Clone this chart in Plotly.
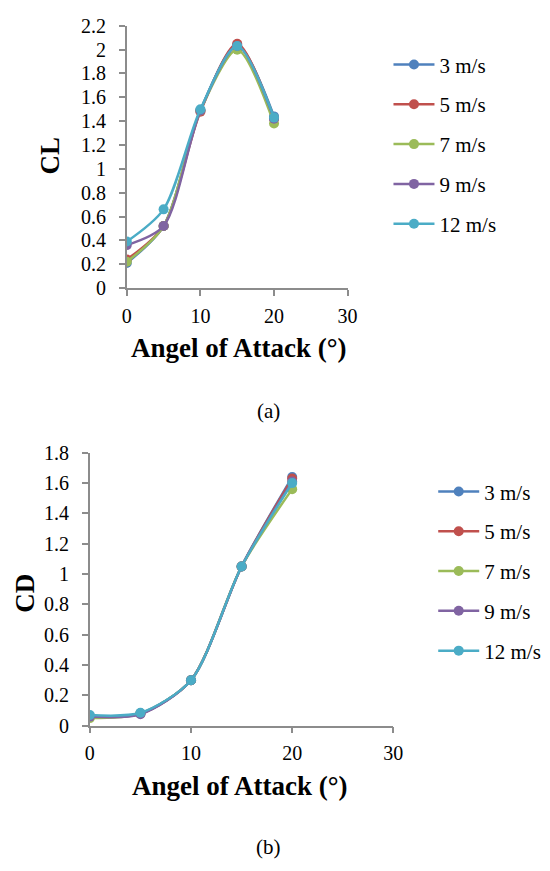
import plotly.graph_objects as go

# angle of attack (deg)
aoa = [0, 5, 10, 15, 20]
speeds = ["3 m/s", "5 m/s", "7 m/s", "9 m/s", "12 m/s"]
colors = ["#4F81BD", "#C0504D", "#9BBB59", "#8064A2", "#4BACC6"]

# lift coefficient per wind speed
cl_3 = [0.21, 0.52, 1.49, 2.04, 1.44]
cl_5 = [0.24, 0.52, 1.48, 2.05, 1.42]
cl_7 = [0.22, 0.52, 1.49, 2.00, 1.38]
cl_9 = [0.36, 0.52, 1.49, 2.03, 1.42]
cl_12 = [0.39, 0.66, 1.50, 2.03, 1.43]

# drag coefficient per wind speed
cd_3 = [0.06, 0.08, 0.30, 1.05, 1.64]
cd_5 = [0.06, 0.08, 0.30, 1.05, 1.63]
cd_7 = [0.05, 0.08, 0.30, 1.05, 1.56]
cd_9 = [0.06, 0.075, 0.30, 1.05, 1.61]
cd_12 = [0.07, 0.085, 0.30, 1.05, 1.60]

cl_all = [cl_3, cl_5, cl_7, cl_9, cl_12]
cd_all = [cd_3, cd_5, cd_7, cd_9, cd_12]

W, H = 550, 871
OFF = 8  # default body margin of the html page
FONT = "Liberation Serif"

fig = go.Figure()

for name, col, ys in zip(speeds, colors, cl_all):
    fig.add_trace(go.Scatter(x=aoa, y=ys, name=name, mode="lines+markers",
                             line=dict(color=col, width=2.5, shape="spline", smoothing=0.8),
                             marker=dict(color=col, size=10),
                             xaxis="x", yaxis="y", legend="legend", legendgroup="a" + name))

for name, col, ys in zip(speeds, colors, cd_all):
    fig.add_trace(go.Scatter(x=aoa, y=ys, name=name, mode="lines+markers",
                             line=dict(color=col, width=2.5, shape="spline", smoothing=0.8),
                             marker=dict(color=col, size=10),
                             xaxis="x2", yaxis="y2", legend="legend2", legendgroup="b" + name))

# screen pixel -> paper coords
def px_x(p):
    return (p - OFF) / W

def px_y(p):
    return (H - (p - OFF)) / H

axis_common = dict(showline=True, linecolor="#8c8c8c", linewidth=1.5, ticks="outside",
                   tickcolor="#8c8c8c", ticklen=6, tickwidth=1.5, showgrid=False, zeroline=False,
                   tickfont=dict(family=FONT, size=20, color="black"))

title_font = dict(family=FONT, size=27, color="black")
leg_font = dict(family=FONT, size=21, color="black")

fig.update_layout(
    width=W, height=H,
    margin=dict(l=0, r=0, t=0, b=0),
    plot_bgcolor="white", paper_bgcolor="white",
    font=dict(family=FONT, color="black"),
    xaxis=dict(domain=[px_x(125), px_x(352)], anchor="y", range=[0, 30], dtick=10,
               ticklabelstandoff=3, **axis_common),
    yaxis=dict(domain=[px_y(284), px_y(15)], anchor="x", range=[0, 2.2], dtick=0.2,
               ticklabelstandoff=9, **axis_common),
    xaxis2=dict(domain=[px_x(87), px_x(399)], anchor="y2", range=[0, 30], dtick=10,
                ticklabelstandoff=3, **axis_common),
    yaxis2=dict(domain=[px_y(733), px_y(453)], anchor="x2", range=[0, 1.8], dtick=0.2,
                ticklabelstandoff=9, **axis_common),
    legend=dict(x=px_x(394), y=px_y(34), xanchor="left", yanchor="top", itemwidth=41,
                font=leg_font, tracegroupgap=9.5, bgcolor="rgba(0,0,0,0)"),
    legend2=dict(x=px_x(440), y=px_y(472), xanchor="left", yanchor="top", itemwidth=41,
                 font=leg_font, tracegroupgap=9.5, bgcolor="rgba(0,0,0,0)"),
    showlegend=True,
    annotations=[
        dict(text="<b>CL</b>", x=px_x(47), y=px_y(148), textangle=-90, font=title_font),
        dict(text="<b>CD</b>", x=px_x(20), y=px_y(597), textangle=-90, font=title_font),
        dict(text="<b>Angel of Attack (°)</b>", x=px_x(240), y=px_y(346), font=title_font),
        dict(text="<b>Angel of Attack (°)</b>", x=px_x(241), y=px_y(795), font=title_font),
        dict(text="(a)", x=px_x(271), y=px_y(410), font=dict(family=FONT, size=21, color="black")),
        dict(text="(b)", x=px_x(271), y=px_y(857), font=dict(family=FONT, size=21, color="black")),
    ],
)
fig.update_annotations(xref="paper", yref="paper", showarrow=False,
                       xanchor="center", yanchor="middle")

fig.write_html("out.html")
